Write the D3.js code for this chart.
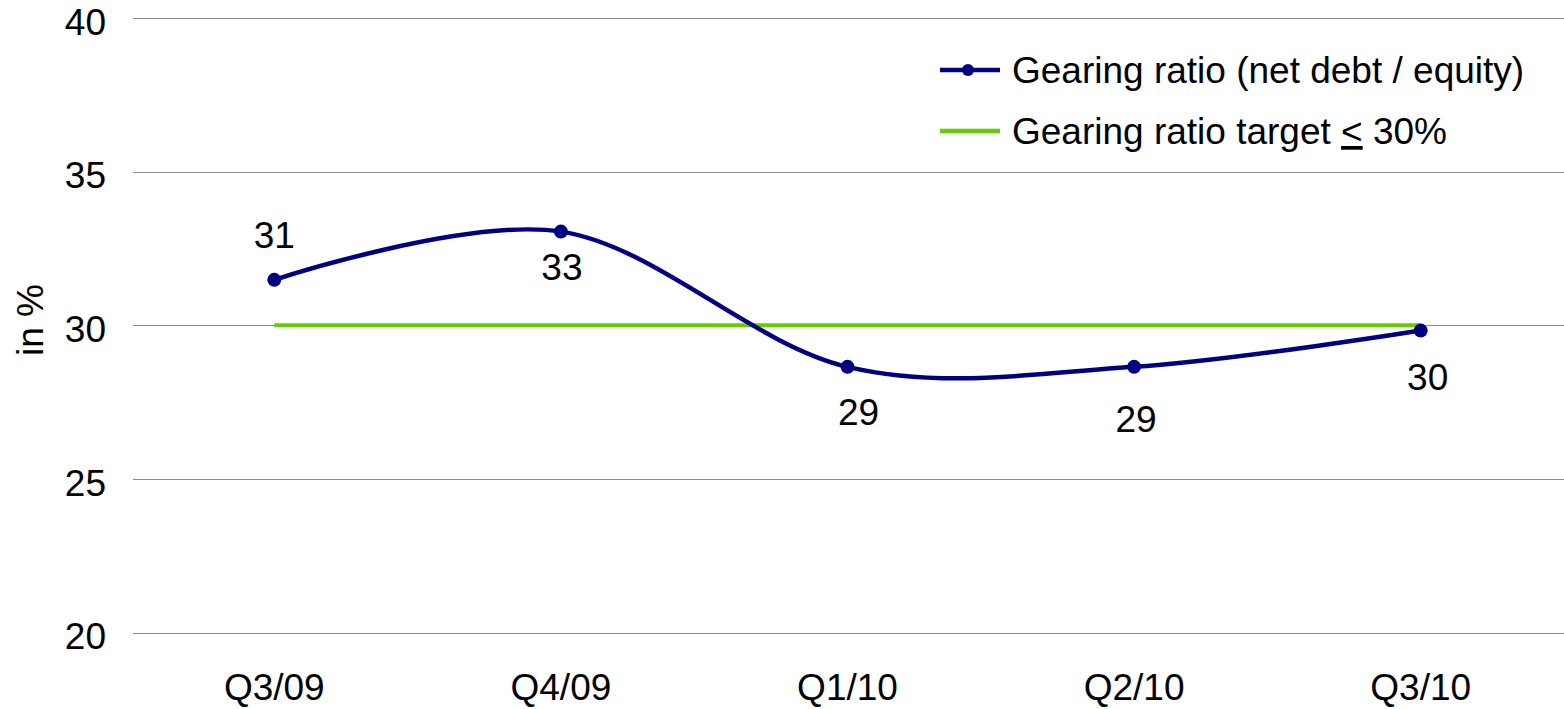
<!DOCTYPE html>
<html>
<head>
<meta charset="utf-8">
<script src="https://cdn.jsdelivr.net/npm/d3@7"></script>
<style>
  body { margin: 0; background: #fff; }
  text { font-family: "Liberation Sans", Arial, sans-serif; fill: #000; }
</style>
</head>
<body>
<div id="chart"></div>
<script>
// data
var quarters = ['Q3/09', 'Q4/09', 'Q1/10', 'Q2/10', 'Q3/10'];
var gearing = [31.48, 33.05, 28.65, 28.65, 29.83];
var gearingLabels = ['31', '33', '29', '29', '30'];
var labelSide = ['above', 'below', 'below', 'below', 'below'];
var target = 30;
var yTicks = [20, 25, 30, 35, 40];
var legendNames = ['Gearing ratio (net debt / equity)', 'Gearing ratio target '];

var W = 1564, H = 709;
var navy = '#000080', green = '#66cc00', fontSize = 37;

var svg = d3.select('#chart').append('svg')
    .attr('width', W)
    .attr('height', H);

// scales
var x = d3.scaleBand().domain(quarters).range([131, 1564]).padding(0);
var y = d3.scaleLinear().domain([20, 40]).range([632.7, 18]);
var cx = function(d) { return x(d) + x.bandwidth() / 2; };

// gridlines
svg.append('g').attr('class', 'grid')
    .selectAll('line')
    .data(yTicks)
    .enter()
    .append('line')
    .attr('x1', 133)
    .attr('x2', W)
    .attr('y1', function(d) { return Math.round(y(d)) + 0.5; })
    .attr('y2', function(d) { return Math.round(y(d)) + 0.5; })
    .attr('stroke', '#8a8a8a')
    .attr('stroke-width', 1.2);

// y tick labels
var axisY = d3.axisLeft(y).tickValues(yTicks).tickSize(0).tickPadding(0);
var gy = svg.append('g').attr('transform', 'translate(106,0)').call(axisY);
gy.select('.domain').remove();
gy.selectAll('text')
    .attr('font-size', fontSize)
    .attr('font-family', '"Liberation Sans", Arial, sans-serif')
    .attr('fill', '#000')
    .attr('dy', null)
    .attr('y', 16);

// x tick labels
var axisX = d3.axisBottom(x).tickSize(0).tickPadding(0);
var gx = svg.append('g').attr('transform', 'translate(0,632)').call(axisX);
gx.select('.domain').remove();
gx.selectAll('text')
    .attr('font-size', fontSize)
    .attr('font-family', '"Liberation Sans", Arial, sans-serif')
    .attr('fill', '#000')
    .attr('dy', null)
    .attr('y', 68);

// y title
svg.append('text')
    .attr('transform', 'translate(43,320) rotate(-90)')
    .attr('text-anchor', 'middle')
    .attr('font-size', fontSize)
    .text('in %');

// target line
svg.append('line')
    .attr('x1', cx(quarters[0]))
    .attr('x2', cx(quarters[quarters.length - 1]))
    .attr('y1', y(target))
    .attr('y2', y(target))
    .attr('stroke', green)
    .attr('stroke-width', 4);

// gearing line, smoothed like the spreadsheet
var lineGearing = d3.line()
    .x(function(d, i) { return cx(quarters[i]); })
    .y(function(d) { return y(d); })
    .curve(d3.curveCardinal.tension(0));

svg.append('path')
    .datum(gearing)
    .attr('d', lineGearing)
    .attr('fill', 'none')
    .attr('stroke', navy)
    .attr('stroke-width', 4.5)
    .attr('stroke-linejoin', 'round');

svg.append('g').selectAll('circle')
    .data(gearing)
    .enter()
    .append('circle')
    .attr('cx', function(d, i) { return cx(quarters[i]); })
    .attr('cy', function(d) { return y(d); })
    .attr('r', 7)
    .attr('fill', navy);

// data labels (small manual nudges as in the original)
var nudgeX = [0, 1, 11, 2, 7];
var nudgeY = [0, 0, 10, 17, 11];
svg.append('g').selectAll('text')
    .data(gearing)
    .enter()
    .append('text')
    .attr('x', function(d, i) { return cx(quarters[i]) + nudgeX[i]; })
    .attr('y', function(d, i) {
        return labelSide[i] == 'above' ? y(d) - 32 : y(d) + 48 + nudgeY[i];
    })
    .attr('text-anchor', 'middle')
    .attr('font-size', fontSize)
    .text(function(d, i) { return gearingLabels[i]; });

// legend
var legend = svg.append('g').attr('transform', 'translate(940,0)');
legend.append('line')
    .attr('x1', 0).attr('x2', 60).attr('y1', 70).attr('y2', 70)
    .attr('stroke', navy).attr('stroke-width', 4.5);
legend.append('circle')
    .attr('cx', 28).attr('cy', 70).attr('r', 6).attr('fill', navy);
legend.append('text')
    .attr('x', 72).attr('y', 83)
    .attr('font-size', fontSize)
    .text(legendNames[0]);

legend.append('line')
    .attr('x1', 0).attr('x2', 60).attr('y1', 131).attr('y2', 131)
    .attr('stroke', green).attr('stroke-width', 4.5);
var t2 = legend.append('text')
    .attr('x', 72).attr('y', 144)
    .attr('font-size', fontSize);
t2.append('tspan').text(legendNames[1]);
t2.append('tspan').style('text-decoration', 'underline').text('<');
t2.append('tspan').text(' ' + target + '%');
</script>
</body>
</html>
